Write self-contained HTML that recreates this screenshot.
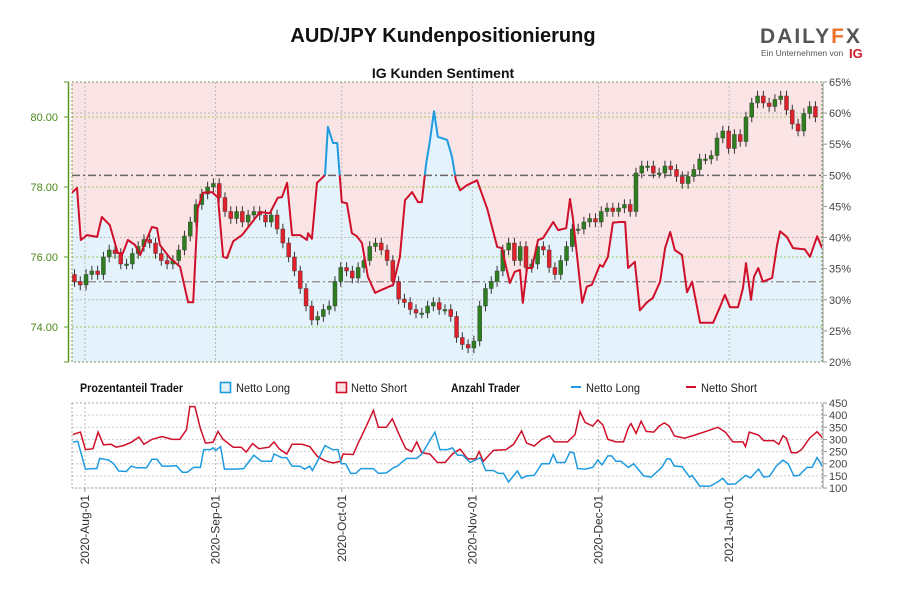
<!DOCTYPE html>
<html><head><meta charset="utf-8">
<style>
body{margin:0;background:#fff;width:900px;height:600px;overflow:hidden;font-family:"Liberation Sans",sans-serif}
svg text{font-family:"Liberation Sans Narrow","Liberation Sans",sans-serif}
</style></head>
<body>
<svg id="c" width="900" height="600" xmlns="http://www.w3.org/2000/svg">
<text x="443" y="42" text-anchor="middle" font-size="20" font-weight="bold" fill="#111" style="font-family:'Liberation Sans',sans-serif">AUD/JPY Kundenpositionierung</text>
<g>
<text x="760" y="43" font-size="21" font-weight="bold" fill="#555" letter-spacing="2" style="font-family:'Liberation Sans',sans-serif">DAILY<tspan fill="#e8732a">F</tspan>X</text>
<text x="761" y="56" font-size="8.5" fill="#555" style="font-family:'Liberation Sans',sans-serif">Ein Unternehmen von</text>
<text x="849" y="58" font-size="13" font-weight="bold" fill="#d01a2a" style="font-family:'Liberation Sans',sans-serif">IG</text>
</g>
<text x="443" y="78" text-anchor="middle" font-size="14" font-weight="bold" fill="#111" style="font-family:'Liberation Sans',sans-serif">IG Kunden Sentiment</text>
<g id="topg"></g>
<g id="legend">
<text x="80" y="392" font-size="11.5" font-weight="bold" fill="#111" textLength="103" lengthAdjust="spacingAndGlyphs">Prozentanteil Trader</text>
<rect x="220.5" y="382.5" width="10" height="10" fill="#e3f1fb" stroke="#1e9be0" stroke-width="1.6"/>
<text x="236" y="392" font-size="11.5" fill="#222" textLength="54" lengthAdjust="spacingAndGlyphs">Netto Long</text>
<rect x="336.5" y="382.5" width="10" height="10" fill="#fbe3e4" stroke="#d0102a" stroke-width="1.6"/>
<text x="351" y="392" font-size="11.5" fill="#222" textLength="56" lengthAdjust="spacingAndGlyphs">Netto Short</text>
<text x="451" y="392" font-size="11.5" font-weight="bold" fill="#111" textLength="69" lengthAdjust="spacingAndGlyphs">Anzahl Trader</text>
<line x1="571" y1="387" x2="581" y2="387" stroke="#1e9be0" stroke-width="2"/>
<text x="586" y="392" font-size="11.5" fill="#222" textLength="54" lengthAdjust="spacingAndGlyphs">Netto Long</text>
<line x1="686" y1="387" x2="696" y2="387" stroke="#d0102a" stroke-width="2"/>
<text x="701" y="392" font-size="11.5" fill="#222" textLength="56" lengthAdjust="spacingAndGlyphs">Netto Short</text>
</g>
<g id="botg"></g>
</svg>
<script>
// ---- data (days since 2020-08-01) ----
const monthLabels=["2020-Aug-01","2020-Sep-01","2020-Oct-01","2020-Nov-01","2020-Dec-01","2021-Jan-01"];
const monthDays=[0,31,61,92,122,153];
const priceTicks=[74,76,78,80];
const pctTicks=[20,25,30,35,40,45,50,55,60,65];
const countTicks=[100,150,200,250,300,350,400,450];
const closes=[75.3,75.2,75.5,75.6,75.5,76.0,76.2,76.1,75.8,75.8,76.1,76.3,76.5,76.4,76.1,75.9,75.8,75.9,76.2,76.6,77.0,77.5,77.8,78.0,78.1,77.7,77.3,77.1,77.3,77.0,77.2,77.3,77.2,77.0,77.2,76.8,76.4,76.0,75.6,75.1,74.6,74.2,74.3,74.5,74.6,75.3,75.7,75.6,75.4,75.7,75.9,76.3,76.4,76.2,75.9,75.3,74.8,74.7,74.5,74.4,74.4,74.6,74.7,74.5,74.5,74.3,73.7,73.5,73.4,73.6,74.6,75.1,75.3,75.6,76.2,76.4,75.9,76.3,75.7,75.8,76.3,76.2,75.7,75.5,75.9,76.3,76.8,76.8,77.0,77.1,77.0,77.3,77.4,77.3,77.4,77.5,77.3,78.4,78.6,78.6,78.4,78.4,78.6,78.5,78.3,78.1,78.3,78.5,78.8,78.8,78.9,79.4,79.6,79.1,79.5,79.3,80.0,80.4,80.6,80.4,80.3,80.5,80.6,80.2,79.8,79.6,80.1,80.3,80.0];
const firstOpen=75.5;
const sentDays=[-3.1,-1.9,-1.0,0.5,2.9,4.0,5.9,7.8,9.0,10.2,11.9,13.1,15.9,17.1,17.8,20.2,22.6,24.5,25.7,26.8,28.0,30.2,31.6,32.8,33.7,35.2,37.3,41.6,43.9,45.8,46.8,48.0,49.2,51.1,52.7,53.0,53.9,55.1,57.0,57.7,58.9,59.9,61.0,62.2,63.4,64.6,65.8,67.2,68.9,70.5,73.2,74.8,76.0,77.7,79.1,80.0,81.0,81.9,82.9,83.8,86.0,87.2,88.1,89.1,90.7,93.1,95.5,97.9,99.0,100.9,102.1,103.3,104.0,105.0,106.2,107.6,108.8,111.2,112.4,114.3,115.2,115.9,118.1,119.2,120.4,122.3,123.0,124.2,125.4,127.1,128.3,129.0,130.6,131.8,133.5,134.9,136.6,137.8,139.0,140.1,141.8,143.0,144.2,146.1,149.2,150.8,152.0,153.2,155.1,156.3,157.0,158.2,158.9,159.9,161.0,163.2,164.4,165.1,166.7,168.2,171.0,172.2,173.9,175.1];
const longPct=[47.2,48,39.6,40.4,40.1,43.3,42,37.5,37.5,39.6,38.8,37.2,41.7,41.5,38.8,36.7,35.3,29.6,29.6,44.7,47.2,47.3,46.4,36.9,36.7,39.4,40.4,44.1,43.9,46.4,46.5,48.8,40.4,40.4,39.6,40.7,39.8,48.8,50.0,57.8,55.2,55.2,45.7,45.5,40.7,40.2,39.1,33.7,31.1,31.6,32.4,36.9,46,47.3,45.7,45.7,51.7,55.4,60.3,56.2,55.7,52.9,49.2,47.6,48.4,49.2,44.7,38.5,38.3,32.7,34.5,34.8,29.5,35.1,35.1,39.6,39.9,42.5,41.2,41.5,46.2,43.1,29.5,32.1,32.4,35.6,35.3,36.9,42.4,42.5,42.5,35.1,36.1,28.3,29.6,30.3,32.9,38.3,40.9,38.0,37.2,31.2,32.9,26.3,26.3,28.8,30.8,28.8,28.8,31.9,35.9,30.0,33.7,35.1,32.9,33.5,38.8,41.0,40.1,38.3,38.1,36.9,40.2,38.3];
const longDays=[-2.9,-1.7,0.1,1.9,2.8,3.5,5.6,6.8,8.0,9.8,11.0,12.2,14.6,15.9,17.1,18.3,20.1,21.7,23.1,24.3,25.8,27.4,28.2,29.8,30.4,31.0,32.2,33.1,35.8,37.7,40.1,41.9,44.3,44.9,46.7,47.9,49.2,51.0,52.2,53.4,54.0,55.2,57.0,58.8,60.1,60.9,61.9,63.1,64.3,65.5,68.5,69.7,71.6,73.4,74.2,76.4,78.8,80.0,83.1,84.3,86.1,87.3,88.5,89.7,91.5,93.9,95.2,97.0,98.2,99.4,100.6,102.7,103.7,104.9,106.7,108.5,110.3,111.2,112.1,114.0,115.2,116.1,117.0,118.8,120.6,121.8,122.8,124.2,125.1,126.1,127.3,129.1,130.3,132.7,134.5,137.0,138.2,139.0,140.0,141.8,143.6,144.2,146.0,148.5,150.3,151.5,152.7,154.5,156.9,158.1,160.0,161.2,162.6,164.2,165.8,167.0,168.4,169.6,171.5,172.7,173.9,175.1];
const longCount=[290,292,178,180,180,222,215,200,170,168,190,183,183,218,218,190,190,192,165,165,185,185,258,258,265,255,270,178,178,180,235,210,210,240,225,225,190,190,178,190,172,210,275,258,258,200,200,160,160,180,180,160,162,185,190,222,222,240,330,258,258,265,235,235,205,225,172,172,160,160,125,170,140,150,152,200,200,238,205,205,248,245,180,178,185,215,195,232,232,210,210,185,200,150,145,185,220,220,190,188,145,152,108,108,125,140,115,117,152,142,178,145,148,190,215,200,150,152,185,185,225,190];
const shortDays=[-2.9,-1.1,0.1,1.9,3.1,4.4,6.2,7.4,9.2,11.0,12.8,14.0,15.9,18.3,20.7,22.5,24.1,24.9,26.1,27.4,28.6,30.4,31.6,32.8,35.2,37.1,38.3,39.8,41.3,43.7,44.9,46.1,47.9,49.2,51.6,53.4,55.2,57.0,58.9,60.7,61.3,63.7,64.9,66.7,68.5,69.7,71.6,73.0,74.6,76.2,77.6,78.8,80.0,81.9,83.7,85.5,87.3,89.1,90.9,92.8,93.6,94.6,97.0,100.0,101.8,103.7,104.9,106.7,108.5,110.3,111.5,114.6,116.4,117.6,118.8,120.6,121.8,123.0,124.2,126.1,127.9,129.1,129.7,130.9,132.1,133.3,135.1,136.4,137.6,138.8,140.0,142.4,144.8,147.3,150.3,152.1,153.9,156.3,156.9,157.8,160.0,161.2,163.6,164.8,165.8,166.6,167.8,169.1,170.3,172.1,173.9,175.1];
const shortCount=[320,330,258,262,330,278,280,268,275,288,310,280,300,312,300,300,340,435,435,345,285,288,333,300,268,268,248,283,262,268,290,262,240,280,280,270,230,212,203,210,240,238,285,350,420,350,350,385,320,262,250,290,245,240,205,205,240,260,220,220,250,210,255,258,280,335,285,273,300,315,290,290,320,415,370,355,380,360,300,290,290,350,365,325,375,333,330,355,368,355,315,305,318,332,350,330,290,290,270,330,318,295,295,280,315,305,245,245,260,305,332,308];

// ---- axes ----
const L=72,R=822,T=82,B=362,BT=403,BB=488;
const NS='http://www.w3.org/2000/svg';
const xDay=d=>85+d*4.21;
const yPrice=p=>117+(80-p)*35;
const yPct=p=>82+(65-p)*(280/45);
const yCnt=v=>BB-(v-100)*(85/350);
function mk(tag,attrs,parent){const e=document.createElementNS(NS,tag);for(const k in attrs)e.setAttribute(k,attrs[k]);parent.appendChild(e);return e;}
function ptsOf(days,vals,yf){const n=Math.min(days.length,vals.length);const out=[];for(let i=0;i<n;i++)out.push(xDay(days[i]).toFixed(1)+','+yf(vals[i]).toFixed(1));return out;}
const topG=document.getElementById('topg'),botG=document.getElementById('botg');

const defs=mk('defs',{},topG);
const cp=mk('clipPath',{id:'plot'},defs);mk('rect',{x:L,y:T,width:R-L,height:B-T},cp);
const ca=mk('clipPath',{id:'above'},defs);mk('rect',{x:L,y:T-5,width:R-L,height:yPct(50)-T+5},ca);
const cb=mk('clipPath',{id:'below'},defs);mk('rect',{x:L,y:yPct(50),width:R-L,height:B-yPct(50)},cb);
const cbot=mk('clipPath',{id:'botclip'},defs);mk('rect',{x:L,y:BT-2,width:R-L,height:BB-BT+4},cbot);

const bg=mk('rect',{x:L,y:T,width:R-L,height:B-T,fill:'#fbe4e5'},topG);


const pts=ptsOf(sentDays,longPct,yPct);
const area=mk('polygon',{points:xDay(sentDays[0])+','+B+' '+pts.join(' ')+' '+xDay(sentDays[sentDays.length-1])+','+B,fill:'#e4f2fb','clip-path':'url(#plot)'},topG);



pctTicks.forEach(p=>{if(p%10===0&&p!==20&&p!==50){const g=mk('line',{x1:L,x2:R,y1:yPct(p),y2:yPct(p),stroke:'#bbb','stroke-dasharray':'2,2'},topG);

}});
priceTicks.forEach(p=>{const g=mk('line',{x1:L,x2:R,y1:yPrice(p),y2:yPrice(p),stroke:'#9c6','stroke-dasharray':'2,2'},topG);

});
monthDays.forEach(d=>{const g=mk('line',{x1:xDay(d),x2:xDay(d),y1:T,y2:B,stroke:'#bbb','stroke-dasharray':'2,2'},topG);


const g2=mk('line',{x1:xDay(d),x2:xDay(d),y1:BT,y2:BB,stroke:'#bbb','stroke-dasharray':'2,2'},botG);

});
const l50=mk('line',{x1:L,x2:R,y1:yPct(50),y2:yPct(50),stroke:'#666','stroke-width':1.5,'stroke-dasharray':'8,3,2,3'},topG);


const lref=mk('line',{x1:L,x2:R,y1:yPct(32.9),y2:yPct(32.9),stroke:'#888','stroke-width':1.2,'stroke-dasharray':'8,3,2,3'},topG);


const frame=mk('rect',{x:L,y:T,width:R-L,height:B-T,fill:'none',stroke:'#7a9a50','stroke-dasharray':'2,2'},topG);



let prev=firstOpen;
closes.forEach((c,i)=>{
  const o=prev;prev=c;
  const x=xDay(-2.5+i*1.375);
  const hi=Math.max(o,c)+0.15,lo=Math.min(o,c)-0.15;
  const g=mk('g',{},topG);
  
  
  mk('line',{x1:x,x2:x,y1:yPrice(hi),y2:yPrice(lo),stroke:'#333','stroke-width':1},g);
  const y1=yPrice(Math.max(o,c)),y2=yPrice(Math.min(o,c));
  mk('rect',{x:x-2,y:y1,width:4,height:Math.max(1.5,y2-y1),fill:c>=o?'#2e7d1e':'#e0202a',stroke:'#333','stroke-width':0.4},g);
});

['above','below'].forEach(z=>{
  const pl=mk('polyline',{points:pts.join(' '),fill:'none',stroke:z==='above'?'#1e9be0':'#d0102a','stroke-width':2,'clip-path':'url(#'+z+')','stroke-linejoin':'round'},topG);
  
  
});

const la=mk('line',{x1:68.5,x2:68.5,y1:T,y2:B,stroke:'#5a9a2a','stroke-width':1.5},topG);


mk('line',{x1:64,x2:69,y1:T,y2:T,stroke:'#5a9a2a'},topG);mk('line',{x1:64,x2:69,y1:B,y2:B,stroke:'#5a9a2a'},topG);
priceTicks.forEach(p=>{mk('line',{x1:64,x2:69,y1:yPrice(p),y2:yPrice(p),stroke:'#5a9a2a'},topG);
const t=mk('text',{x:58,y:yPrice(p)+4,'text-anchor':'end','font-size':11,fill:'#4a8a1a'},topG);t.textContent=p.toFixed(2);

});
const ra=mk('line',{x1:823,x2:823,y1:T,y2:B,stroke:'#999'},topG);


pctTicks.forEach(p=>{mk('line',{x1:823,x2:827,y1:yPct(p),y2:yPct(p),stroke:'#999'},topG);
const t=mk('text',{x:829,y:yPct(p)+4,'font-size':11,fill:'#444'},topG);t.textContent=p+'%';

});

countTicks.forEach(v=>{const g=mk('line',{x1:L,x2:R,y1:yCnt(v),y2:yCnt(v),stroke:'#ccc','stroke-dasharray':'2,2'},botG);


mk('line',{x1:823,x2:827,y1:yCnt(v),y2:yCnt(v),stroke:'#999'},botG);
const t=mk('text',{x:829,y:yCnt(v)+4,'font-size':11,fill:'#444'},botG);t.textContent=v;

});
const bf=mk('rect',{x:L,y:BT,width:R-L,height:BB-BT,fill:'none',stroke:'#aaa','stroke-dasharray':'2,2'},botG);


mk('line',{x1:823,x2:823,y1:BT,y2:BB,stroke:'#999'},botG);
const sl=mk('polyline',{points:ptsOf(shortDays,shortCount,yCnt).join(' '),fill:'none',stroke:'#d0102a','stroke-width':1.5,'clip-path':'url(#botclip)'},botG);


const ll=mk('polyline',{points:ptsOf(longDays,longCount,yCnt).join(' '),fill:'none',stroke:'#1e9be0','stroke-width':1.5,'clip-path':'url(#botclip)'},botG);



monthDays.forEach((d,i)=>{const x=xDay(d);
mk('line',{x1:x,x2:x,y1:BB,y2:BB+4,stroke:'#999'},botG);
const t=mk('text',{x:0,y:0,'font-size':12,fill:'#333','text-anchor':'end',transform:'translate('+(x+4)+','+(BB+7)+') rotate(-90)'},botG);
t.textContent=monthLabels[i];

});
</script>
</body></html>
